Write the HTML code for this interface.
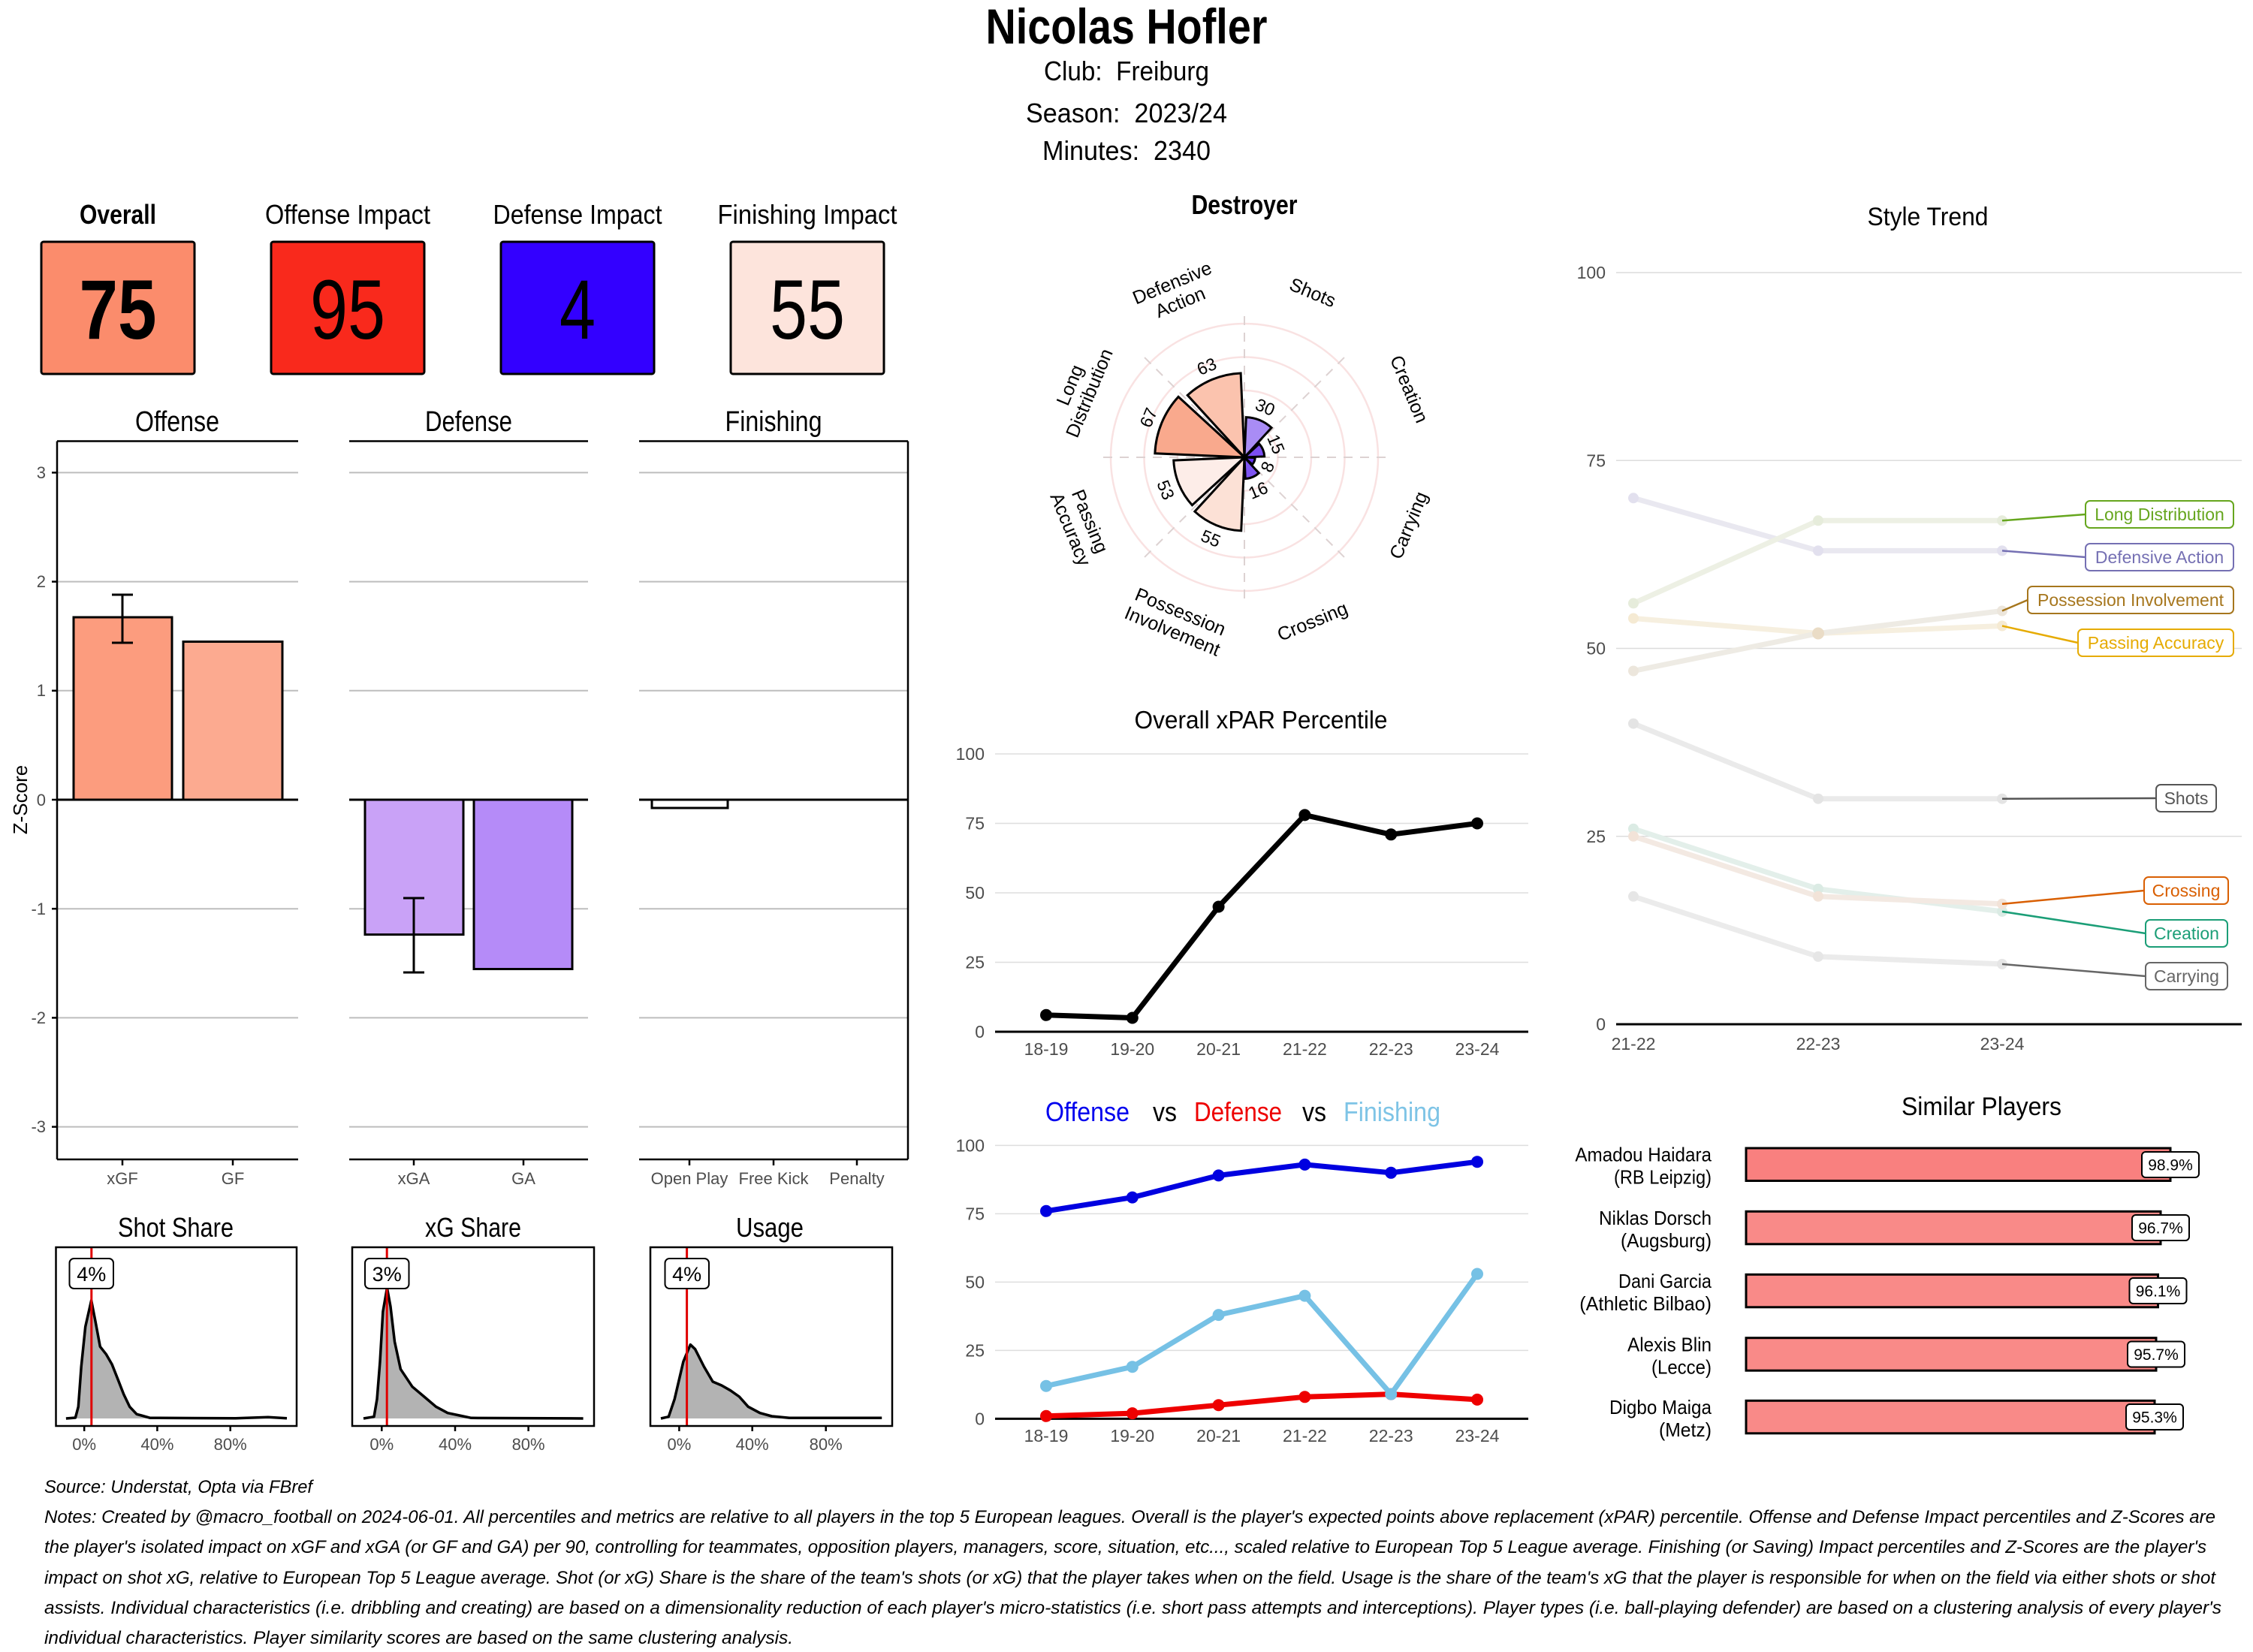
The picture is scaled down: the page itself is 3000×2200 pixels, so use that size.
<!DOCTYPE html>
<html><head><meta charset="utf-8">
<style>
html,body{margin:0;padding:0;background:#fff;}
svg{display:block;}
.c{font-family:"Liberation Sans Narrow","Liberation Sans",sans-serif;}
.r{font-family:"Liberation Sans",sans-serif;}
.tk{font-family:"Liberation Sans Narrow","Liberation Sans",sans-serif;fill:#4d4d4d;font-size:22px;}
.tr{font-family:"Liberation Sans",sans-serif;fill:#4d4d4d;font-size:23px;}
.pre{white-space:pre;}
</style></head>
<body>
<svg width="3000" height="2200" viewBox="0 0 3000 2200" xmlns="http://www.w3.org/2000/svg">
<rect width="3000" height="2200" fill="#fff"/>

<!-- HEADER -->
<text class="c" x="1500" y="58" text-anchor="middle" font-size="66" font-weight="bold" textLength="375" lengthAdjust="spacingAndGlyphs">Nicolas Hofler</text>
<text class="c pre" x="1500" y="107" text-anchor="middle" font-size="36" textLength="220" lengthAdjust="spacingAndGlyphs">Club:  Freiburg</text>
<text class="c pre" x="1500" y="163" text-anchor="middle" font-size="36" textLength="268" lengthAdjust="spacingAndGlyphs">Season:  2023/24</text>
<text class="c pre" x="1500" y="213" text-anchor="middle" font-size="36" textLength="224" lengthAdjust="spacingAndGlyphs">Minutes:  2340</text>

<!-- TILES -->
<text class="c" x="157" y="298" text-anchor="middle" font-size="36" font-weight="bold" textLength="102" lengthAdjust="spacingAndGlyphs">Overall</text>
<text class="c" x="463" y="298" text-anchor="middle" font-size="36" textLength="220" lengthAdjust="spacingAndGlyphs">Offense Impact</text>
<text class="c" x="769" y="298" text-anchor="middle" font-size="36" textLength="225" lengthAdjust="spacingAndGlyphs">Defense Impact</text>
<text class="c" x="1075" y="298" text-anchor="middle" font-size="36" textLength="239" lengthAdjust="spacingAndGlyphs">Finishing Impact</text>
<rect x="55" y="322" width="204" height="176" rx="3" fill="#FB8C6C" stroke="#000" stroke-width="3"/>
<rect x="361" y="322" width="204" height="176" rx="3" fill="#F9291C" stroke="#000" stroke-width="3"/>
<rect x="667" y="322" width="204" height="176" rx="3" fill="#3300FF" stroke="#000" stroke-width="3"/>
<rect x="973" y="322" width="204" height="176" rx="3" fill="#FDE4DC" stroke="#000" stroke-width="3"/>
<text class="c" x="157" y="451" text-anchor="middle" font-size="112" font-weight="bold" textLength="103" lengthAdjust="spacingAndGlyphs">75</text>
<text class="c" x="463" y="451" text-anchor="middle" font-size="112" textLength="100" lengthAdjust="spacingAndGlyphs">95</text>
<text class="c" x="769" y="451" text-anchor="middle" font-size="112" textLength="48" lengthAdjust="spacingAndGlyphs">4</text>
<text class="c" x="1075" y="451" text-anchor="middle" font-size="112" textLength="100" lengthAdjust="spacingAndGlyphs">55</text>

<!-- FACET BAR CHARTS -->
<text class="c" x="236" y="574" text-anchor="middle" font-size="38" textLength="112" lengthAdjust="spacingAndGlyphs">Offense</text>
<text class="c" x="624" y="574" text-anchor="middle" font-size="38" textLength="116" lengthAdjust="spacingAndGlyphs">Defense</text>
<text class="c" x="1030" y="574" text-anchor="middle" font-size="38" textLength="129" lengthAdjust="spacingAndGlyphs">Finishing</text>
<g stroke="#bdbdbd" stroke-width="2">
  <line x1="76" x2="397" y1="629.4" y2="629.4"/><line x1="465" x2="783" y1="629.4" y2="629.4"/><line x1="851" x2="1209" y1="629.4" y2="629.4"/>
  <line x1="76" x2="397" y1="774.6" y2="774.6"/><line x1="465" x2="783" y1="774.6" y2="774.6"/><line x1="851" x2="1209" y1="774.6" y2="774.6"/>
  <line x1="76" x2="397" y1="919.8" y2="919.8"/><line x1="465" x2="783" y1="919.8" y2="919.8"/><line x1="851" x2="1209" y1="919.8" y2="919.8"/>
  <line x1="76" x2="397" y1="1210.2" y2="1210.2"/><line x1="465" x2="783" y1="1210.2" y2="1210.2"/><line x1="851" x2="1209" y1="1210.2" y2="1210.2"/>
  <line x1="76" x2="397" y1="1355.4" y2="1355.4"/><line x1="465" x2="783" y1="1355.4" y2="1355.4"/><line x1="851" x2="1209" y1="1355.4" y2="1355.4"/>
  <line x1="76" x2="397" y1="1500.6" y2="1500.6"/><line x1="465" x2="783" y1="1500.6" y2="1500.6"/><line x1="851" x2="1209" y1="1500.6" y2="1500.6"/>
</g>
<!-- bars -->
<rect x="98" y="822" width="131" height="243" fill="#FC9C7E" stroke="#000" stroke-width="3"/>
<rect x="244" y="854.5" width="132" height="210.5" fill="#FCAA90" stroke="#000" stroke-width="3"/>
<rect x="486" y="1065" width="131" height="179.6" fill="#C9A2F7" stroke="#000" stroke-width="3"/>
<rect x="631" y="1065" width="131" height="225.5" fill="#B58BF8" stroke="#000" stroke-width="3"/>
<rect x="868" y="1065" width="101" height="11" fill="#fff" stroke="#000" stroke-width="3"/>
<!-- zero lines -->
<g stroke="#000" stroke-width="3">
  <line x1="76" x2="397" y1="1065" y2="1065"/>
  <line x1="465" x2="783" y1="1065" y2="1065"/>
  <line x1="851" x2="1209" y1="1065" y2="1065"/>
</g>
<!-- error bars -->
<g stroke="#000" stroke-width="3" fill="none">
  <line x1="163" x2="163" y1="792" y2="856"/><line x1="149" x2="177" y1="792" y2="792"/><line x1="149" x2="177" y1="856" y2="856"/>
  <line x1="551" x2="551" y1="1196" y2="1295"/><line x1="537" x2="565" y1="1196" y2="1196"/><line x1="537" x2="565" y1="1295" y2="1295"/>
</g>
<!-- panel frames -->
<g stroke="#000" stroke-width="2.5" fill="none">
  <line x1="76" x2="397" y1="587.5" y2="587.5"/>
  <line x1="465" x2="783" y1="587.5" y2="587.5"/>
  <line x1="851" x2="1209" y1="587.5" y2="587.5"/>
  <line x1="76" x2="76" y1="587.5" y2="1544"/>
  <line x1="1209" x2="1209" y1="587.5" y2="1544"/>
  <line x1="76" x2="397" y1="1544" y2="1544"/>
  <line x1="465" x2="783" y1="1544" y2="1544"/>
  <line x1="851" x2="1209" y1="1544" y2="1544"/>
  <line x1="69" x2="76" y1="629.4" y2="629.4"/><line x1="69" x2="76" y1="774.6" y2="774.6"/><line x1="69" x2="76" y1="919.8" y2="919.8"/>
  <line x1="69" x2="76" y1="1065" y2="1065"/><line x1="69" x2="76" y1="1210.2" y2="1210.2"/><line x1="69" x2="76" y1="1355.4" y2="1355.4"/><line x1="69" x2="76" y1="1500.6" y2="1500.6"/>
  <line x1="163" x2="163" y1="1544" y2="1552"/><line x1="310" x2="310" y1="1544" y2="1552"/>
  <line x1="551" x2="551" y1="1544" y2="1552"/><line x1="697" x2="697" y1="1544" y2="1552"/>
  <line x1="918" x2="918" y1="1544" y2="1552"/><line x1="1030" x2="1030" y1="1544" y2="1552"/><line x1="1141" x2="1141" y1="1544" y2="1552"/>
</g>
<g class="tk" text-anchor="end">
  <text x="61" y="637">3</text><text x="61" y="782">2</text><text x="61" y="927">1</text><text x="61" y="1073">0</text>
  <text x="61" y="1218">-1</text><text x="61" y="1363">-2</text><text x="61" y="1508">-3</text>
</g>
<g class="tk" text-anchor="middle">
  <text x="163" y="1577">xGF</text><text x="310" y="1577">GF</text>
  <text x="551" y="1577">xGA</text><text x="697" y="1577">GA</text>
  <text x="918" y="1577">Open Play</text><text x="1030" y="1577">Free Kick</text><text x="1141" y="1577">Penalty</text>
</g>
<text class="r" x="0" y="0" font-size="26" text-anchor="middle" transform="translate(36,1065) rotate(-90)">Z-Score</text>

<!-- DENSITY PLOTS -->
<text class="c" x="234" y="1647" text-anchor="middle" font-size="36" textLength="154" lengthAdjust="spacingAndGlyphs">Shot Share</text>
<text class="c" x="630" y="1647" text-anchor="middle" font-size="36" textLength="128" lengthAdjust="spacingAndGlyphs">xG Share</text>
<text class="c" x="1025" y="1647" text-anchor="middle" font-size="36" textLength="90" lengthAdjust="spacingAndGlyphs">Usage</text>

<path d="M87.9,1889 L100.4,1888 L104.3,1873.3 L108.2,1820 L113.7,1766.7 L121.6,1731.7 L127.1,1760 L133.3,1793.3 L141.2,1803.3 L149,1816.7 L156.9,1836.7 L164.7,1856.7 L172.6,1873.3 L182,1883.3 L188.3,1885 L200,1888.3 L211.8,1888.3 L313.8,1888.7 L357,1887.3 L382,1888.7 L382,1889 Z" fill="#b3b3b3"/>
<path d="M87.9,1889 L100.4,1888 L104.3,1873.3 L108.2,1820 L113.7,1766.7 L121.6,1731.7 L127.1,1760 L133.3,1793.3 L141.2,1803.3 L149,1816.7 L156.9,1836.7 L164.7,1856.7 L172.6,1873.3 L182,1883.3 L188.3,1885 L200,1888.3 L211.8,1888.3 L313.8,1888.7 L357,1887.3 L382,1888.7" fill="none" stroke="#000" stroke-width="3.5" stroke-linejoin="round"/>

<path d="M484,1889 L498,1886.7 L502,1863.3 L506,1813.3 L509.9,1746.7 L515.4,1715 L520,1740 L525.5,1786.7 L533.4,1823.3 L549,1846.7 L564.8,1860 L580.5,1873.3 L596.1,1881.7 L611.8,1885 L627.5,1888.3 L776.6,1889 Z" fill="#b3b3b3"/>
<path d="M484,1889 L498,1886.7 L502,1863.3 L506,1813.3 L509.9,1746.7 L515.4,1715 L520,1740 L525.5,1786.7 L533.4,1823.3 L549,1846.7 L564.8,1860 L580.5,1873.3 L596.1,1881.7 L611.8,1885 L627.5,1888.3 L776.6,1889" fill="none" stroke="#000" stroke-width="3.5" stroke-linejoin="round"/>

<path d="M880,1889 L890.3,1886.7 L898.2,1863.3 L909.9,1813.3 L919.3,1790.7 L925.6,1796.7 L937.4,1820 L949.1,1840 L960.9,1845 L972.6,1851.7 L984.4,1860 L996.2,1873.3 L1011.9,1881.7 L1027.6,1886 L1051.1,1888.3 L1174.2,1888.3 L1174.2,1889 Z" fill="#b3b3b3"/>
<path d="M880,1889 L890.3,1886.7 L898.2,1863.3 L909.9,1813.3 L919.3,1790.7 L925.6,1796.7 L937.4,1820 L949.1,1840 L960.9,1845 L972.6,1851.7 L984.4,1860 L996.2,1873.3 L1011.9,1881.7 L1027.6,1886 L1051.1,1888.3 L1174.2,1888.3" fill="none" stroke="#000" stroke-width="3.5" stroke-linejoin="round"/>

<g stroke="#e00000" stroke-width="3">
  <line x1="121.8" x2="121.8" y1="1661" y2="1899"/>
  <line x1="515.2" x2="515.2" y1="1661" y2="1899"/>
  <line x1="914.6" x2="914.6" y1="1661" y2="1899"/>
</g>
<g fill="none" stroke="#000" stroke-width="2.5">
  <rect x="74.5" y="1661" width="320.5" height="238"/>
  <rect x="469" y="1661" width="322" height="238"/>
  <rect x="866" y="1661" width="322" height="238"/>
  <line x1="112.2" x2="112.2" y1="1899" y2="1906"/><line x1="209.4" x2="209.4" y1="1899" y2="1906"/><line x1="306.7" x2="306.7" y1="1899" y2="1906"/>
  <line x1="508.3" x2="508.3" y1="1899" y2="1906"/><line x1="606" x2="606" y1="1899" y2="1906"/><line x1="703.6" x2="703.6" y1="1899" y2="1906"/>
  <line x1="904.4" x2="904.4" y1="1899" y2="1906"/><line x1="1001.7" x2="1001.7" y1="1899" y2="1906"/><line x1="1099.7" x2="1099.7" y1="1899" y2="1906"/>
</g>
<g fill="#fff" stroke="#000" stroke-width="2">
  <rect x="92.5" y="1676" width="58.5" height="40" rx="6"/>
  <rect x="486" y="1676" width="58.5" height="40" rx="6"/>
  <rect x="885.5" y="1676" width="58.5" height="40" rx="6"/>
</g>
<g class="c" font-size="27" text-anchor="middle">
  <text x="121.8" y="1706">4%</text>
  <text x="515.2" y="1706">3%</text>
  <text x="914.6" y="1706">4%</text>
</g>
<g class="tk" text-anchor="middle" font-size="23">
  <text x="112.2" y="1931">0%</text><text x="209.4" y="1931">40%</text><text x="306.7" y="1931">80%</text>
  <text x="508.3" y="1931">0%</text><text x="606" y="1931">40%</text><text x="703.6" y="1931">80%</text>
  <text x="904.4" y="1931">0%</text><text x="1001.7" y="1931">40%</text><text x="1099.7" y="1931">80%</text>
</g>

<!-- RADAR -->
<text class="c" x="1657" y="285" text-anchor="middle" font-size="36" font-weight="bold" textLength="141" lengthAdjust="spacingAndGlyphs">Destroyer</text>
<g fill="none" stroke="#f9e2e2" stroke-width="2.5">
  <circle cx="1657" cy="609" r="44.5"/>
  <circle cx="1657" cy="609" r="89"/>
  <circle cx="1657" cy="609" r="133.5"/>
  <circle cx="1657" cy="609" r="178"/>
</g>
<g stroke="#ddd2d2" stroke-width="2" stroke-dasharray="12 10">
  <line x1="1657" y1="609" x2="1657" y2="412"/>
  <line x1="1657" y1="609" x2="1796.3" y2="469.7"/>
  <line x1="1657" y1="609" x2="1854" y2="609"/>
  <line x1="1657" y1="609" x2="1796.3" y2="748.3"/>
  <line x1="1657" y1="609" x2="1657" y2="806"/>
  <line x1="1657" y1="609" x2="1517.7" y2="748.3"/>
  <line x1="1657" y1="609" x2="1460" y2="609"/>
  <line x1="1657" y1="609" x2="1517.7" y2="469.7"/>
</g>
<g stroke="#000" stroke-width="3" stroke-linejoin="miter">
  <path d="M1657,609 L1659.33,555.65 A53.4,53.4 0 0 1 1693.08,569.63 Z" fill="#A98CF5"/>
  <path d="M1657,609 L1676.69,590.96 A26.7,26.7 0 0 1 1683.67,607.84 Z" fill="#7B4EF2"/>
  <path d="M1657,609 L1671.23,609.62 A14.24,14.24 0 0 1 1667.50,618.62 Z" fill="#6633F0"/>
  <path d="M1657,609 L1676.24,630.00 A28.48,28.48 0 0 1 1658.24,637.45 Z" fill="#7F55F2"/>
  <path d="M1657,609 L1652.73,706.81 A97.9,97.9 0 0 1 1590.86,681.18 Z" fill="#FCE1D6"/>
  <path d="M1657,609 L1587.44,672.73 A94.34,94.34 0 0 1 1562.75,613.12 Z" fill="#FDEDE8"/>
  <path d="M1657,609 L1537.85,603.80 A119.26,119.26 0 0 1 1569.07,528.43 Z" fill="#F9A98D"/>
  <path d="M1657,609 L1581.24,526.32 A112.14,112.14 0 0 1 1652.11,496.97 Z" fill="#FBC3AE"/>
</g>
<g class="r" font-size="23" text-anchor="middle" dominant-baseline="central">
  <text transform="translate(1684.7,542.1) rotate(22.5)">30</text>
  <text transform="translate(1699.2,591.5) rotate(67.5)">15</text>
  <text transform="translate(1687.7,621.7) rotate(-67.5)">8</text>
  <text transform="translate(1675.2,652.9) rotate(-22.5)">16</text>
  <text transform="translate(1612.3,717) rotate(22.5)">55</text>
  <text transform="translate(1552.3,652.4) rotate(67.5)">53</text>
  <text transform="translate(1529.2,556.1) rotate(-67.5)">67</text>
  <text transform="translate(1606.8,487.9) rotate(-22.5)">63</text>
</g>
<g class="r" font-size="25" text-anchor="middle" dominant-baseline="central">
  <g transform="translate(1566.3,390) rotate(-22.5)"><text y="-14">Defensive</text><text y="14">Action</text></g>
  <text transform="translate(1747.7,390) rotate(22.5)">Shots</text>
  <text transform="translate(1876,518.3) rotate(67.5)">Creation</text>
  <text transform="translate(1876,699.7) rotate(-67.5)">Carrying</text>
  <text transform="translate(1747.7,828) rotate(-22.5)">Crossing</text>
  <g transform="translate(1566.3,828) rotate(22.5)"><text y="-14">Possession</text><text y="14">Involvement</text></g>
  <g transform="translate(1438,699.7) rotate(67.5)"><text y="-14">Passing</text><text y="14">Accuracy</text></g>
  <g transform="translate(1438,518.3) rotate(-67.5)"><text y="-14">Long</text><text y="14">Distribution</text></g>
</g>

<!-- XPAR CHART -->
<text class="r" x="1679" y="970" text-anchor="middle" font-size="33" textLength="337" lengthAdjust="spacingAndGlyphs">Overall xPAR Percentile</text>
<g stroke="#dedede" stroke-width="1.5">
  <line x1="1325" x2="2035" y1="1004" y2="1004"/>
  <line x1="1325" x2="2035" y1="1096.5" y2="1096.5"/>
  <line x1="1325" x2="2035" y1="1189" y2="1189"/>
  <line x1="1325" x2="2035" y1="1281.5" y2="1281.5"/>
</g>
<line x1="1325" x2="2035" y1="1374" y2="1374" stroke="#000" stroke-width="3"/>
<g class="tr" text-anchor="end">
  <text x="1311" y="1012">100</text><text x="1311" y="1104.5">75</text><text x="1311" y="1197">50</text><text x="1311" y="1289.5">25</text><text x="1311" y="1382">0</text>
</g>
<g class="tr" text-anchor="middle">
  <text x="1393" y="1405">18-19</text><text x="1507.8" y="1405">19-20</text><text x="1622.6" y="1405">20-21</text>
  <text x="1737.4" y="1405">21-22</text><text x="1852.2" y="1405">22-23</text><text x="1967" y="1405">23-24</text>
</g>
<polyline points="1393,1351.8 1507.8,1355.5 1622.6,1207.5 1737.4,1085.4 1852.2,1111.3 1967,1096.5" fill="none" stroke="#000" stroke-width="7" stroke-linejoin="round"/>
<g fill="#000">
  <circle cx="1393" cy="1351.8" r="8"/><circle cx="1507.8" cy="1355.5" r="8"/><circle cx="1622.6" cy="1207.5" r="8"/>
  <circle cx="1737.4" cy="1085.4" r="8"/><circle cx="1852.2" cy="1111.3" r="8"/><circle cx="1967" cy="1096.5" r="8"/>
</g>

<!-- OFFENSE VS DEFENSE VS FINISHING -->
<g class="r" font-size="36">
  <text x="1392" y="1493" fill="#0000EE" textLength="112" lengthAdjust="spacingAndGlyphs">Offense</text>
  <text x="1535" y="1493" fill="#000" textLength="32" lengthAdjust="spacingAndGlyphs">vs</text>
  <text x="1590" y="1493" fill="#EE0000" textLength="117" lengthAdjust="spacingAndGlyphs">Defense</text>
  <text x="1734" y="1493" fill="#000" textLength="32" lengthAdjust="spacingAndGlyphs">vs</text>
  <text x="1789" y="1493" fill="#7EC4E6" textLength="129" lengthAdjust="spacingAndGlyphs">Finishing</text>
</g>
<g stroke="#dedede" stroke-width="1.5">
  <line x1="1325" x2="2035" y1="1525.4" y2="1525.4"/>
  <line x1="1325" x2="2035" y1="1616.4" y2="1616.4"/>
  <line x1="1325" x2="2035" y1="1707.4" y2="1707.4"/>
  <line x1="1325" x2="2035" y1="1798.4" y2="1798.4"/>
</g>
<line x1="1325" x2="2035" y1="1889.4" y2="1889.4" stroke="#000" stroke-width="3"/>
<g class="tr" text-anchor="end">
  <text x="1311" y="1533.4">100</text><text x="1311" y="1624.4">75</text><text x="1311" y="1715.4">50</text><text x="1311" y="1806.4">25</text><text x="1311" y="1897.4">0</text>
</g>
<g class="tr" text-anchor="middle">
  <text x="1393" y="1920">18-19</text><text x="1507.8" y="1920">19-20</text><text x="1622.6" y="1920">20-21</text>
  <text x="1737.4" y="1920">21-22</text><text x="1852.2" y="1920">22-23</text><text x="1967" y="1920">23-24</text>
</g>
<polyline points="1393,1612.8 1507.8,1594.6 1622.6,1565.4 1737.4,1550.9 1852.2,1561.8 1967,1547.2" fill="none" stroke="#0000E0" stroke-width="7" stroke-linejoin="round"/>
<g fill="#0000E0">
  <circle cx="1393" cy="1612.8" r="8"/><circle cx="1507.8" cy="1594.6" r="8"/><circle cx="1622.6" cy="1565.4" r="8"/>
  <circle cx="1737.4" cy="1550.9" r="8"/><circle cx="1852.2" cy="1561.8" r="8"/><circle cx="1967" cy="1547.2" r="8"/>
</g>
<polyline points="1393,1885.8 1507.8,1882.1 1622.6,1871.2 1737.4,1860.3 1852.2,1856.6 1967,1863.9" fill="none" stroke="#EE0000" stroke-width="7" stroke-linejoin="round"/>
<g fill="#EE0000">
  <circle cx="1393" cy="1885.8" r="8"/><circle cx="1507.8" cy="1882.1" r="8"/><circle cx="1622.6" cy="1871.2" r="8"/>
  <circle cx="1737.4" cy="1860.3" r="8"/><circle cx="1852.2" cy="1856.6" r="8"/><circle cx="1967" cy="1863.9" r="8"/>
</g>
<polyline points="1393,1845.7 1507.8,1820.2 1622.6,1751.1 1737.4,1725.6 1852.2,1856.6 1967,1696.5" fill="none" stroke="#76C1E5" stroke-width="7" stroke-linejoin="round"/>
<g fill="#76C1E5">
  <circle cx="1393" cy="1845.7" r="8"/><circle cx="1507.8" cy="1820.2" r="8"/><circle cx="1622.6" cy="1751.1" r="8"/>
  <circle cx="1737.4" cy="1725.6" r="8"/><circle cx="1852.2" cy="1856.6" r="8"/><circle cx="1967" cy="1696.5" r="8"/>
</g>

<!-- STYLE TREND -->
<text class="r" x="2567" y="300" text-anchor="middle" font-size="34" textLength="161" lengthAdjust="spacingAndGlyphs">Style Trend</text>
<g stroke="#dcdcdc" stroke-width="1.5">
  <line x1="2152" x2="2985" y1="363" y2="363"/>
  <line x1="2152" x2="2985" y1="613.3" y2="613.3"/>
  <line x1="2152" x2="2985" y1="863.5" y2="863.5"/>
  <line x1="2152" x2="2985" y1="1113.8" y2="1113.8"/>
</g>
<line x1="2152" x2="2985" y1="1364" y2="1364" stroke="#000" stroke-width="3"/>
<g class="tr" text-anchor="end">
  <text x="2138" y="371">100</text><text x="2138" y="621.3">75</text><text x="2138" y="871.5">50</text><text x="2138" y="1121.8">25</text><text x="2138" y="1372">0</text>
</g>
<g class="tr" text-anchor="middle">
  <text x="2175" y="1398">21-22</text><text x="2421" y="1398">22-23</text><text x="2666" y="1398">23-24</text>
</g>
<g fill="none" stroke-width="7" stroke-linejoin="round">
  <polyline points="2175,663.3 2421,733.4 2666,733.4" stroke="#e9e8f0"/>
  <polyline points="2175,803.4 2421,693.3 2666,693.3" stroke="#edf0e4"/>
  <polyline points="2175,823.5 2421,843.5 2666,833.5" stroke="#f6efdf"/>
  <polyline points="2175,893.5 2421,843.5 2666,813.5" stroke="#eeebe4"/>
  <polyline points="2175,963.6 2421,1063.7 2666,1063.7" stroke="#eaeaea"/>
  <polyline points="2175,1103.7 2421,1183.8 2666,1213.9" stroke="#e3efea"/>
  <polyline points="2175,1113.8 2421,1193.8 2666,1203.8" stroke="#f3e9e2"/>
  <polyline points="2175,1193.8 2421,1273.9 2666,1283.9" stroke="#ebebeb"/>
</g>
<g>
  <circle cx="2175" cy="663.3" r="7" fill="#e2e0ee"/><circle cx="2421" cy="733.4" r="7" fill="#e2e0ee"/><circle cx="2666" cy="733.4" r="7" fill="#e2e0ee"/>
  <circle cx="2175" cy="803.4" r="7" fill="#e6ecdb"/><circle cx="2421" cy="693.3" r="7" fill="#e6ecdb"/><circle cx="2666" cy="693.3" r="7" fill="#e6ecdb"/>
  <circle cx="2175" cy="823.5" r="7" fill="#f5ead3"/><circle cx="2666" cy="833.5" r="7" fill="#f5ead3"/>
  <circle cx="2175" cy="893.5" r="7" fill="#ece6dc"/><circle cx="2421" cy="843.5" r="8" fill="#eadcc6"/><circle cx="2666" cy="813.5" r="7" fill="#ece6dc"/>
  <circle cx="2175" cy="963.6" r="7" fill="#e4e4e4"/><circle cx="2421" cy="1063.7" r="7" fill="#e4e4e4"/><circle cx="2666" cy="1063.7" r="7" fill="#e4e4e4"/>
  <circle cx="2175" cy="1103.7" r="7" fill="#dbebe4"/><circle cx="2421" cy="1183.8" r="7" fill="#dbebe4"/><circle cx="2666" cy="1213.9" r="7" fill="#dbebe4"/>
  <circle cx="2175" cy="1113.8" r="7" fill="#f2e3d8"/><circle cx="2421" cy="1193.8" r="7" fill="#f2e3d8"/><circle cx="2666" cy="1203.8" r="7" fill="#f2e3d8"/>
  <circle cx="2175" cy="1193.8" r="7" fill="#e6e6e6"/><circle cx="2421" cy="1273.9" r="7" fill="#e6e6e6"/><circle cx="2666" cy="1283.9" r="7" fill="#e6e6e6"/>
</g>
<g stroke-width="2.5" fill="none">
  <line x1="2666" y1="693.3" x2="2777" y2="685" stroke="#66A61E"/>
  <line x1="2666" y1="733.4" x2="2777" y2="742" stroke="#7570B3"/>
  <line x1="2666" y1="813.5" x2="2700" y2="799" stroke="#A6761D"/>
  <line x1="2666" y1="833.5" x2="2767" y2="856" stroke="#E6AB02"/>
  <line x1="2666" y1="1063.7" x2="2871" y2="1063" stroke="#555555"/>
  <line x1="2666" y1="1203.8" x2="2855" y2="1186" stroke="#D95F02"/>
  <line x1="2666" y1="1213.9" x2="2857" y2="1243" stroke="#1B9E77"/>
  <line x1="2666" y1="1283.9" x2="2857" y2="1300" stroke="#666666"/>
</g>
<g fill="#fff" stroke-width="2">
  <rect x="2777" y="667" width="197" height="36" rx="6" stroke="#66A61E"/>
  <rect x="2777" y="724" width="197" height="36" rx="6" stroke="#7570B3"/>
  <rect x="2700" y="781" width="274" height="36" rx="6" stroke="#A6761D"/>
  <rect x="2767" y="838" width="207" height="36" rx="6" stroke="#E6AB02"/>
  <rect x="2871" y="1045" width="80" height="36" rx="6" stroke="#555555"/>
  <rect x="2855" y="1168" width="112" height="36" rx="6" stroke="#D95F02"/>
  <rect x="2857" y="1225" width="109" height="36" rx="6" stroke="#1B9E77"/>
  <rect x="2857" y="1282" width="109" height="36" rx="6" stroke="#666666"/>
</g>
<g class="r" font-size="23" text-anchor="middle">
  <text x="2875.5" y="693" fill="#66A61E">Long Distribution</text>
  <text x="2875.5" y="750" fill="#7570B3">Defensive Action</text>
  <text x="2837" y="807" fill="#A6761D">Possession Involvement</text>
  <text x="2870.5" y="864" fill="#E6AB02">Passing Accuracy</text>
  <text x="2911" y="1071" fill="#555555">Shots</text>
  <text x="2911" y="1194" fill="#D95F02">Crossing</text>
  <text x="2911.5" y="1251" fill="#1B9E77">Creation</text>
  <text x="2911.5" y="1308" fill="#666666">Carrying</text>
</g>

<!-- SIMILAR PLAYERS -->
<text class="c" x="2638.5" y="1485" text-anchor="middle" font-size="34" textLength="213" lengthAdjust="spacingAndGlyphs">Similar Players</text>
<g stroke="#000" stroke-width="3">
  <rect x="2325" y="1529" width="565" height="43.5" fill="#F9807F"/>
  <rect x="2325" y="1613.3" width="552" height="43.5" fill="#F98A88"/>
  <rect x="2325" y="1697.3" width="548.5" height="43.5" fill="#F98A88"/>
  <rect x="2325" y="1781.7" width="546" height="43.5" fill="#F98A88"/>
  <rect x="2325" y="1865.3" width="544" height="43.5" fill="#F98A88"/>
</g>
<g fill="#fff" stroke="#000" stroke-width="2">
  <rect x="2852" y="1534" width="76" height="34" rx="5"/>
  <rect x="2839" y="1618" width="76" height="34" rx="5"/>
  <rect x="2835.5" y="1702" width="76" height="34" rx="5"/>
  <rect x="2833" y="1786.5" width="76" height="34" rx="5"/>
  <rect x="2831" y="1870" width="76" height="34" rx="5"/>
</g>
<g class="c" font-size="21" text-anchor="middle">
  <text x="2890" y="1558.5">98.9%</text>
  <text x="2877" y="1642.5">96.7%</text>
  <text x="2873.5" y="1726.5">96.1%</text>
  <text x="2871" y="1811">95.7%</text>
  <text x="2869" y="1894.5">95.3%</text>
</g>
<g class="c" font-size="26" text-anchor="end">
  <text x="2279" y="1546.7" textLength="181.6" lengthAdjust="spacingAndGlyphs">Amadou Haidara</text>
  <text x="2279" y="1576.7" textLength="130" lengthAdjust="spacingAndGlyphs">(RB Leipzig)</text>
  <text x="2279" y="1631" textLength="150" lengthAdjust="spacingAndGlyphs">Niklas Dorsch</text>
  <text x="2279" y="1661" textLength="121" lengthAdjust="spacingAndGlyphs">(Augsburg)</text>
  <text x="2279" y="1715" textLength="124" lengthAdjust="spacingAndGlyphs">Dani Garcia</text>
  <text x="2279" y="1745" textLength="175.7" lengthAdjust="spacingAndGlyphs">(Athletic Bilbao)</text>
  <text x="2279" y="1799.4" textLength="112" lengthAdjust="spacingAndGlyphs">Alexis Blin</text>
  <text x="2279" y="1829.4" textLength="80" lengthAdjust="spacingAndGlyphs">(Lecce)</text>
  <text x="2279" y="1883" textLength="136" lengthAdjust="spacingAndGlyphs">Digbo Maiga</text>
  <text x="2279" y="1913" textLength="70" lengthAdjust="spacingAndGlyphs">(Metz)</text>
</g>

<!-- NOTES -->
<g class="c" font-size="24" font-style="italic" fill="#000">
  <text x="59" y="1988" textLength="357" lengthAdjust="spacingAndGlyphs">Source: Understat, Opta via FBref</text>
  <text x="59" y="2028" textLength="2891" lengthAdjust="spacingAndGlyphs">Notes: Created by @macro_football on 2024-06-01. All percentiles and metrics are relative to all players in the top 5 European leagues. Overall is the player's expected points above replacement (xPAR) percentile. Offense and Defense Impact percentiles and Z-Scores are</text>
  <text x="59" y="2068" textLength="2879" lengthAdjust="spacingAndGlyphs">the player's isolated impact on xGF and xGA (or GF and GA) per 90, controlling for teammates, opposition players, managers, score, situation, etc..., scaled relative to European Top 5 League average. Finishing (or Saving) Impact percentiles and Z-Scores are the player's</text>
  <text x="59" y="2109" textLength="2891" lengthAdjust="spacingAndGlyphs">impact on shot xG, relative to European Top 5 League average. Shot (or xG) Share is the share of the team's shots (or xG) that the player takes when on the field. Usage is the share of the team's xG that the player is responsible for when on the field via either shots or shot</text>
  <text x="59" y="2149" textLength="2899" lengthAdjust="spacingAndGlyphs">assists. Individual characteristics (i.e. dribbling and creating) are based on a dimensionality reduction of each player's micro-statistics (i.e. short pass attempts and interceptions). Player types (i.e. ball-playing defender) are based on a clustering analysis of every player's</text>
  <text x="59" y="2189" textLength="997" lengthAdjust="spacingAndGlyphs">individual characteristics. Player similarity scores are based on the same clustering analysis.</text>
</g>
</svg>
</body></html>
